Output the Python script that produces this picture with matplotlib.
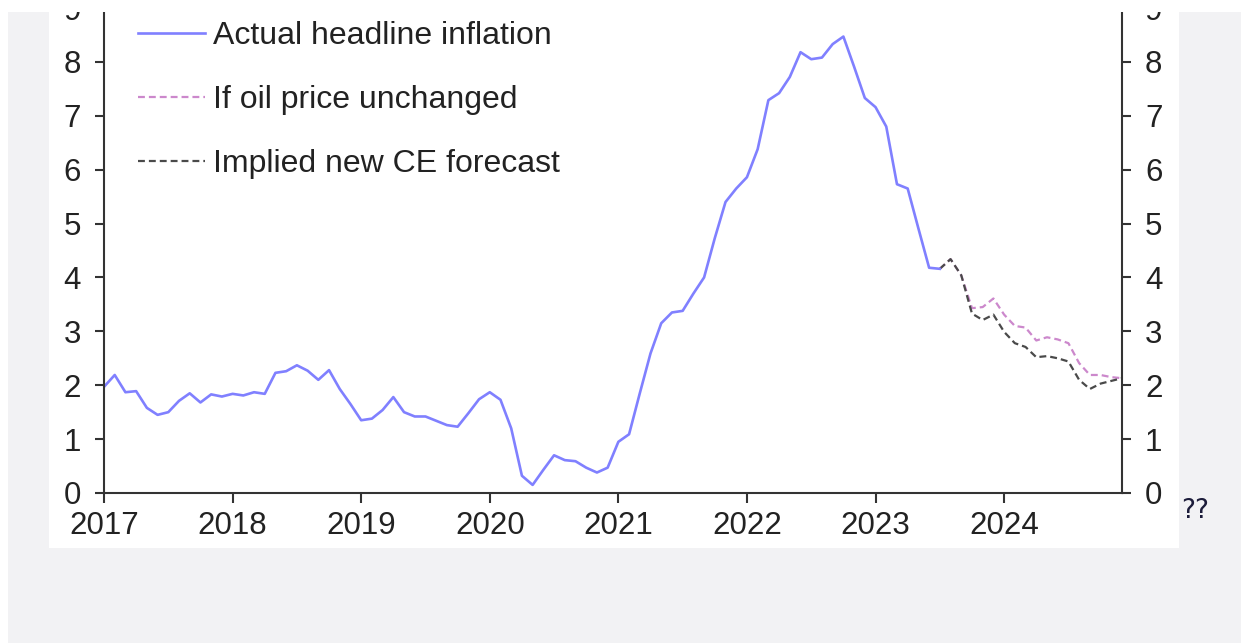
import matplotlib.pyplot as plt
from matplotlib.patches import Rectangle
from matplotlib.lines import Line2D

# monthly data, Jan 2017 onwards (% y/y)
actual = [1.97, 2.19, 1.87, 1.89, 1.58, 1.45, 1.50, 1.71, 1.85, 1.68, 1.83, 1.79,
          1.84, 1.81, 1.87, 1.84, 2.23, 2.26, 2.37, 2.27, 2.10, 2.28, 1.93, 1.65,
          1.35, 1.38, 1.54, 1.78, 1.50, 1.42, 1.42, 1.34, 1.26, 1.23, 1.48, 1.74,
          1.87, 1.73, 1.20, 0.32, 0.15, 0.43, 0.70, 0.61, 0.59, 0.47, 0.38, 0.47,
          0.95, 1.09, 1.85, 2.59, 3.15, 3.35, 3.38, 3.70, 4.00, 4.73, 5.40, 5.65,
          5.86, 6.38, 7.29, 7.42, 7.72, 8.18, 8.05, 8.08, 8.33, 8.47, 7.91, 7.33,
          7.16, 6.80, 5.73, 5.65, 4.91, 4.18, 4.16]

# forecasts start Jul 2023 (month 78)
fc_start = 78
oil_unchanged = [4.16, 4.34, 4.04, 3.43, 3.45, 3.61, 3.31, 3.10, 3.07, 2.83, 2.89, 2.85,
                 2.78, 2.41, 2.19, 2.19, 2.15, 2.13]
ce_forecast = [4.16, 4.34, 4.04, 3.33, 3.21, 3.31, 2.99, 2.78, 2.71, 2.52, 2.54, 2.50,
               2.44, 2.10, 1.93, 2.03, 2.08, 2.13]

years = [2017, 2018, 2019, 2020, 2021, 2022, 2023, 2024]
yticks = [0, 1, 2, 3, 4, 5, 6, 7, 8, 9]

labels = ['Actual headline inflation', 'If oil price unchanged', 'Implied new CE forecast']

x_act = [2017 + i / 12 for i in range(len(actual))]
x_fc = [2017 + (fc_start + i) / 12 for i in range(len(ce_forecast))]

plt.rcParams['font.family'] = ['Liberation Sans', 'DejaVu Sans']

blue = '#8080ff'
pink = '#cc88cc'
dark = '#4a4a4a'
txt = '#222222'

fig = plt.figure(figsize=(12.41, 6.43), dpi=100)
fig.patch.set_facecolor('#f2f2f4')

# white panel behind the chart + white strips at top / left edge
fig.patches.append(Rectangle((49 / 1241, (643 - 548) / 643), 1130 / 1241, 536 / 643,
                             transform=fig.transFigure, facecolor='white',
                             edgecolor='none', zorder=-10))
fig.patches.append(Rectangle((0, (643 - 12) / 643), 1, 12 / 643,
                             transform=fig.transFigure, facecolor='white',
                             edgecolor='none', zorder=20))
fig.patches.append(Rectangle((0, 0), 8 / 1241, 1,
                             transform=fig.transFigure, facecolor='white',
                             edgecolor='none', zorder=20))

ax = fig.add_axes([104 / 1241, (643 - 493) / 643, 1018 / 1241, 485 / 643])
ax.set_facecolor('none')

ax.plot(x_fc, oil_unchanged, color=pink, lw=1.6, dashes=(3.1, 1.8))
ax.plot(x_fc, ce_forecast, color=dark, lw=1.6, dashes=(3.1, 1.8))
ax.plot(x_act, actual, color=blue, lw=1.9)

ax.set_xlim(2017, 2017 + 95 / 12)
ax.set_ylim(0, 9)
ax.set_xticks(years)
ax.set_xticklabels([str(y) for y in years])
ax.set_yticks(yticks)

for s in ['left', 'right', 'bottom']:
    ax.spines[s].set_linewidth(1.5)
    ax.spines[s].set_color('#333333')
ax.spines['top'].set_visible(False)

ax.tick_params(axis='y', which='both', direction='out', length=6.5, width=1.5,
               color='#333333', labelsize=22.5, labelcolor=txt, pad=10,
               left=True, right=True, labelleft=True, labelright=True)
ax.tick_params(axis='x', direction='out', length=7, width=1.5, color='#333333',
               labelsize=22.5, labelcolor=txt, pad=6)

# legend
handles = [Line2D([], [], color=blue, lw=1.9),
           Line2D([], [], color=pink, lw=1.6, dashes=(3.1, 1.8)),
           Line2D([], [], color=dark, lw=1.6, dashes=(3.1, 1.8))]
leg = ax.legend(handles, labels, loc='upper left', bbox_to_anchor=(0.0334, 0.973),
                frameon=False, fontsize=23, handlelength=2.1, handletextpad=0.25,
                labelspacing=1.06, borderpad=0, borderaxespad=0)
for t in leg.get_texts():
    t.set_color(txt)

fig.text(1181 / 1241, (643 - 518) / 643, '??', fontsize=19, color='#1c1c3a',
         family='DejaVu Sans')

fig.savefig('out.png', dpi=100, facecolor=fig.get_facecolor())
